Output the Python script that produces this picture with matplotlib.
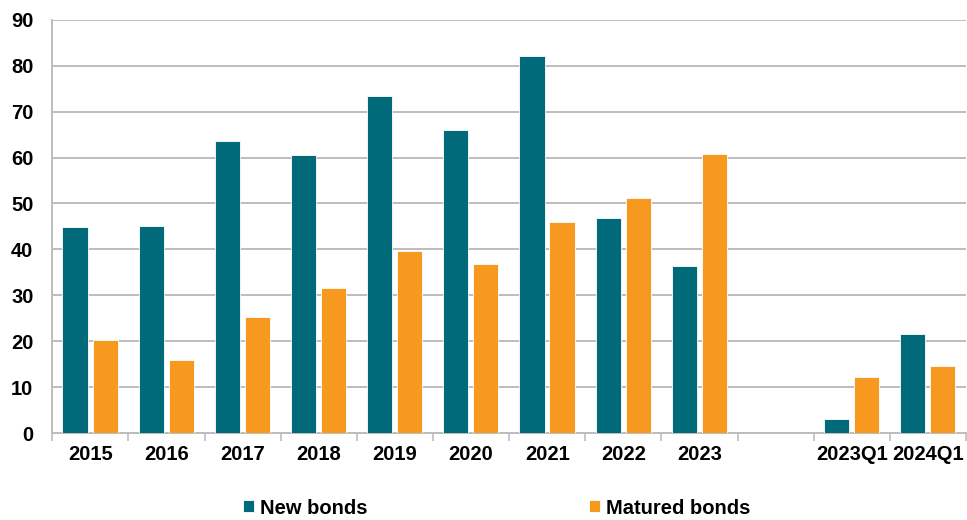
import matplotlib.pyplot as plt
import numpy as np

categories = ["2015", "2016", "2017", "2018", "2019", "2020", "2021",
              "2022", "2023", "", "2023Q1", "2024Q1"]
new_bonds = [44.8, 45.2, 63.7, 60.6, 73.3, 65.9, 82.2, 46.8, 36.5, np.nan, 3.1, 21.6]
matured_bonds = [20.3, 16.0, 25.3, 31.7, 39.7, 36.9, 46.0, 51.2, 60.8, np.nan, 12.3, 14.6]

TEAL = "#006a7a"
ORANGE = "#f7991f"
GRID = "#bdbdbd"

plt.rcParams["font.family"] = ["Liberation Sans", "DejaVu Sans"]
plt.rcParams["font.weight"] = "bold"

fig = plt.figure(figsize=(9.67, 5.2), dpi=100)
ax = fig.add_axes([0.054, 0.167, 0.945, 0.795])

x = np.arange(len(categories))
w = 0.33
ax.bar(x - 0.2, new_bonds, w, color=TEAL, edgecolor="white", linewidth=0.6,
       label="New bonds", zorder=3)
ax.bar(x + 0.195, matured_bonds, w, color=ORANGE, edgecolor="white", linewidth=0.6,
       label="Matured bonds", zorder=3)

ax.set_xlim(-0.5, len(categories) - 0.5)
ax.set_ylim(0, 90)
ax.set_yticks(range(0, 91, 10))
ax.yaxis.grid(True, color=GRID, linewidth=1.4, zorder=0)
ax.tick_params(axis="y", length=0, pad=13.5, labelsize=14.5)

# labels centred in categories, tick marks on the boundaries
ax.set_xticks(x)
ax.set_xticklabels(categories)
ax.tick_params(axis="x", which="major", length=0, pad=8.5, labelsize=14.5)
ax.set_xticks(np.arange(-0.5, len(categories), 1), minor=True)
ax.tick_params(axis="x", which="minor", length=6, width=1.2, color=GRID, direction="out")

for side in ["top", "right"]:
    ax.spines[side].set_visible(False)
for side in ["left", "bottom"]:
    ax.spines[side].set_color(GRID)
    ax.spines[side].set_linewidth(1.4)

fig.legend(loc="center", bbox_to_anchor=(0.514, 0.023), ncol=2, frameon=False,
           fontsize=14.5, handlelength=0.55, handleheight=0.55, handletextpad=0.3,
           columnspacing=11)

fig.savefig("out.png", dpi=100)
